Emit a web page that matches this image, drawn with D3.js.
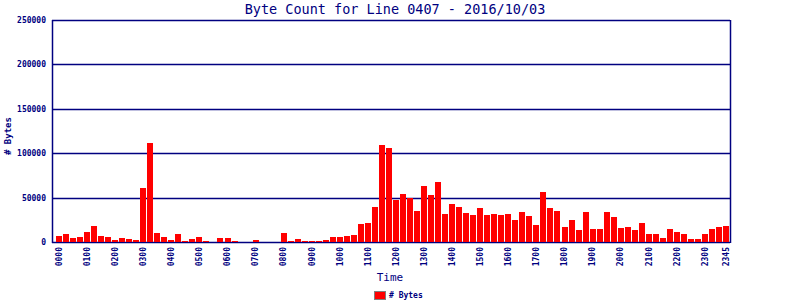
<!DOCTYPE html>
<html>
<head>
<meta charset="utf-8">
<script src="https://cdn.jsdelivr.net/npm/d3@7"></script>
<style>
  body { margin: 0; background: #fff; }
  text { font-family: "DejaVu Sans Mono", monospace; fill: #000080; }
</style>
</head>
<body>
<div id="chart"></div>
<script>
// 15 minute slots, 0000 .. 2345
var slots = d3.range(96).map(function(i) {
  var h = Math.floor(i / 4), m = (i % 4) * 15;
  return (h < 10 ? "0" : "") + h + (m < 10 ? "0" : "") + m;
});

var bytes = [
  6800, 9000, 4500, 5600, 11300, 18000, 6800, 5600, 2300, 4500, 3400, 2300, 60900, 111700, 10200, 5600,
  2300, 9000, 1100, 3400, 5600, 1100, 0, 4500, 4500, 1100, 0, 0, 2300, 0, 0, 0,
  10200, 1100, 3400, 1100, 1100, 1100, 2300, 5600, 5600, 6800, 7900, 20300, 21400, 39500, 109400, 106000,
  47400, 54100, 49300, 35000, 63200, 53000, 67700, 31600, 42900, 39500, 32700, 30500, 38400, 30500, 31600, 30500,
  31600, 24800, 33800, 29300, 19200, 56400, 38400, 35000, 16900, 24800, 13500, 33800, 14700, 14700, 33800, 28600,
  15800, 16900, 13500, 21400, 9000, 9000, 4500, 14700, 11300, 9000, 3400, 3400, 9000, 14700, 16900, 18000
];

var xTicks = ["0000", "0100", "0200", "0300", "0400", "0500", "0600", "0700", "0800", "0900", "1000", "1100",
  "1200", "1300", "1400", "1500", "1600", "1700", "1800", "1900", "2000", "2100", "2200", "2300", "2345"];
var yTicks = [0, 50000, 100000, 150000, 200000, 250000];

var width = 800, height = 300;
var margin = {top: 20, right: 730, bottom: 242, left: 52};

var svg = d3.select("#chart").append("svg")
    .attr("width", width)
    .attr("height", height);

var x = d3.scaleBand()
    .domain(slots)
    .range([56, 729])
    .paddingInner(1 / 7)
    .paddingOuter(0);

var y = d3.scaleLinear()
    .domain([0, 250000])
    .range([margin.bottom, margin.top]);

svg.append("text")
    .attr("x", 395)
    .attr("y", 14)
    .style("text-anchor", "middle")
    .style("font-size", "13.5px")
    .text("Byte Count for Line 0407 - 2016/10/03");

// grid
svg.selectAll(".grid")
    .data(yTicks)
  .enter().append("line")
    .attr("class", "grid")
    .attr("x1", margin.left)
    .attr("x2", margin.right)
    .attr("y1", function(d) { return Math.round(y(d)) + 0.5; })
    .attr("y2", function(d) { return Math.round(y(d)) + 0.5; })
    .style("stroke", "#000080")
    .style("stroke-width", 1.5);

svg.selectAll(".bar")
    .data(bytes)
  .enter().append("rect")
    .attr("class", "bar")
    .attr("x", function(d, i) { return x(slots[i]); })
    .attr("width", x.bandwidth())
    .attr("y", function(d) { return y(d); })
    .attr("height", function(d) { return margin.bottom - y(d); })
    .style("fill", "#ff0000")
    .style("shape-rendering", "crispEdges");

// frame
svg.append("line").attr("x1", margin.left + 0.5).attr("x2", margin.left + 0.5)
    .attr("y1", margin.top).attr("y2", margin.bottom + 1)
    .style("stroke", "#000080").style("stroke-width", 1.5);
svg.append("line").attr("x1", margin.right + 0.5).attr("x2", margin.right + 0.5)
    .attr("y1", margin.top).attr("y2", margin.bottom + 1)
    .style("stroke", "#000080").style("stroke-width", 1.5);

var yAxis = d3.axisLeft(y).tickValues(yTicks).tickFormat(d3.format("d")).tickSize(0).tickPadding(6);
svg.append("g")
    .attr("transform", "translate(" + margin.left + ",0)")
    .call(yAxis)
    .call(function(g) { g.select(".domain").remove(); })
    .selectAll("text")
    .style("font-family", "DejaVu Sans Mono, monospace")
    .style("font-size", "8px")
    .style("font-weight", "bold")
    .style("fill", "#000080");

var xAxis = d3.axisBottom(x).tickValues(xTicks).tickSize(0).tickPadding(0);
svg.append("g")
    .attr("transform", "translate(0," + margin.bottom + ")")
    .call(xAxis)
    .call(function(g) { g.select(".domain").remove(); })
    .selectAll("text")
    .attr("transform", "rotate(-90)")
    .attr("x", -5)
    .attr("y", 0)
    .attr("dy", ".35em")
    .style("text-anchor", "end")
    .style("font-family", "DejaVu Sans Mono, monospace")
    .style("font-size", "8px")
    .style("font-weight", "bold")
    .style("fill", "#000080");

svg.append("text")
    .attr("transform", "translate(11,136) rotate(-90)")
    .style("text-anchor", "middle")
    .style("font-size", "9px")
    .style("font-weight", "bold")
    .text("# Bytes");

svg.append("text")
    .attr("x", 390)
    .attr("y", 281)
    .style("text-anchor", "middle")
    .style("font-size", "11px")
    .text("Time");

var legend = svg.append("g").attr("class", "legend");
legend.append("rect")
    .attr("x", 374.5)
    .attr("y", 291.5)
    .attr("width", 11)
    .attr("height", 8)
    .style("fill", "#ff0000")
    .style("stroke", "#808080")
    .style("stroke-width", 1);
legend.append("text")
    .attr("x", 389)
    .attr("y", 298)
    .style("font-size", "8px")
    .style("font-weight", "bold")
    .text("# Bytes");
</script>
</body>
</html>
